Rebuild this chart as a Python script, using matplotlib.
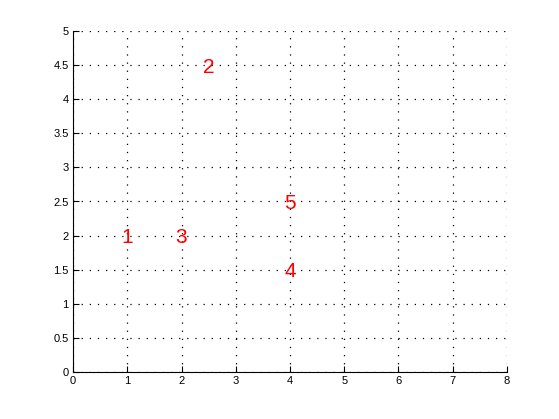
import matplotlib
matplotlib.use("Agg")
import matplotlib.pyplot as plt

labels = ["1", "2", "3", "4", "5"]
xs = [1, 2.5, 2, 4, 4]
ys = [2, 4.5, 2, 1.5, 2.5]
xticks = [0, 1, 2, 3, 4, 5, 6, 7, 8]
yticks = [0, 0.5, 1, 1.5, 2, 2.5, 3, 3.5, 4, 4.5, 5]

plt.rcParams['font.family'] = ['Liberation Sans', 'DejaVu Sans']
fig = plt.figure(figsize=(5.59, 4.19), dpi=100)
ax = fig.add_axes([73/559, 47/419, 434/559, 341/419])
for l, x, y in zip(labels, xs, ys):
    ax.text(x, y, l, color='red', fontsize=15, ha='center', va='center_baseline')
ax.set_xlim(0, 8)
ax.set_ylim(0, 5)
ax.set_xticks(xticks)
ax.set_yticks(yticks)
ax.set_xticklabels([str(t) for t in xticks])
ax.set_yticklabels([('%g' % t) for t in yticks])
ax.tick_params(direction='in', length=4, labelsize=8, width=0.8, pad=3)
ax.grid(True, linestyle=(0, (1, 5.5)), color='black', linewidth=0.9)
ax.spines['top'].set_visible(False)
ax.spines['right'].set_visible(False)
ax.set_axisbelow(False)
fig.savefig("out.png", dpi=100)
